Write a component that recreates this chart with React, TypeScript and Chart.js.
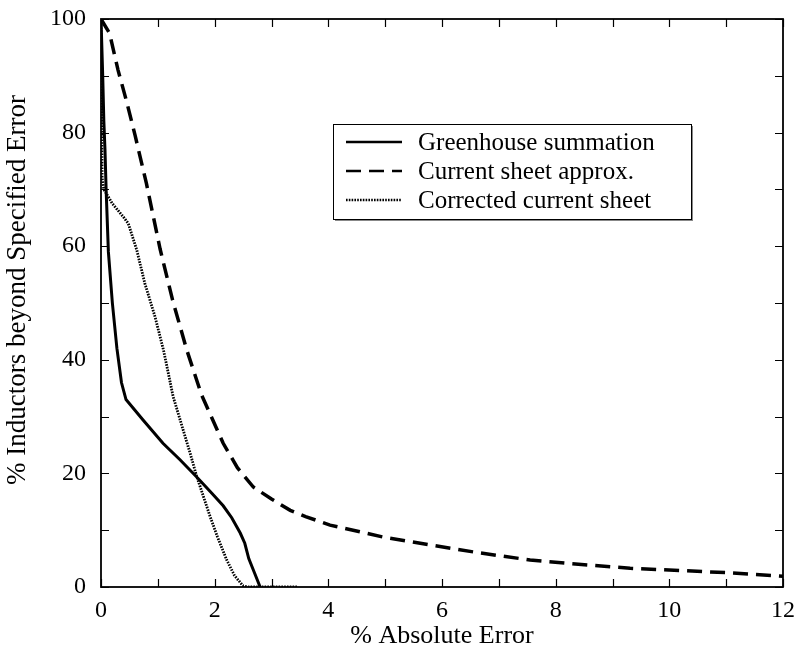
import React, { useEffect, useRef } from "react";
import { Chart, registerables } from "chart.js";

Chart.register(...registerables);

// ---- data ----
const greenhouseX = [0, 0.03, 0.05, 0.07, 0.09, 0.13, 0.2, 0.28, 0.36, 0.44, 0.74, 1.09, 1.39, 1.68, 1.95, 2.15, 2.3, 2.45, 2.53, 2.6, 2.7, 2.8];
const greenhouseY = [100, 90, 82, 77, 70, 59, 50, 42, 36, 33, 29.4, 25.3, 22.4, 19.4, 16.5, 14.3, 12.2, 9.5, 7.7, 5, 2.5, 0];

const currentSheetX = [0, 0.15, 0.3, 0.45, 0.6, 0.8, 1.04, 1.26, 1.51, 1.77, 2.15, 2.4, 2.68, 3.0, 3.33, 3.6, 4.03, 4.96, 5.79, 6.6, 7.55, 8.4, 9.31, 10.2, 11.07, 12];
const currentSheetY = [100, 97.5, 91, 85.5, 79.5, 71, 59.5, 50.5, 41.7, 33.8, 25.3, 21, 17.6, 15.5, 13.5, 12.4, 10.9, 8.8, 7.4, 6.1, 4.75, 4.0, 3.3, 2.9, 2.5, 1.9];

const correctedX = [0, 0.01, 0.02, 0.05, 0.2, 0.39, 0.48, 0.63, 0.77, 0.95, 1.1, 1.27, 1.42, 1.57, 1.68, 1.8, 1.92, 2.05, 2.21, 2.35, 2.5, 2.6, 3.0, 3.47];
const correctedY = [100, 85, 72, 70, 67.5, 65.2, 64, 59.3, 53.5, 47.6, 41.7, 33.5, 28.5, 23.5, 19.6, 16, 12.4, 8.8, 4.8, 2, 0.2, 0, 0, 0];

const seriesLabels = ["Greenhouse summation", "Current sheet approx.", "Corrected current sheet"];

const xMin = 0, xMax = 12, xLabelStep = 2, xMinorStep = 1;
const yMin = 0, yMax = 100, yLabelStep = 20, yMinorStep = 10;

const xTitle = "% Absolute Error";
const yTitle = "% Inductors beyond Specified Error";

const FONT_FAMILY = "'Liberation Serif', 'Times New Roman', serif";
const TICK_SIZE = 24;
const LEGEND_SIZE = 25;
const XTITLE_SIZE = 26;
const YTITLE_SIZE = 27;

const toPoints = (xs: number[], ys: number[]) => xs.map((x, i) => ({ x, y: ys[i] }));

const framePlugin = {
  id: "frameTicks",
  afterDatasetsDraw(chart: any) {
    const { ctx, chartArea: a, scales } = chart;
    ctx.save();
    ctx.strokeStyle = "#000";
    ctx.lineWidth = 1.2;
    const L = 8;
    ctx.beginPath();
    for (let v = xMin; v <= xMax; v += xMinorStep) {
      const px = Math.round(scales.x.getPixelForValue(v)) + 0.5;
      ctx.moveTo(px, a.bottom);
      ctx.lineTo(px, a.bottom - L);
      ctx.moveTo(px, a.top);
      ctx.lineTo(px, a.top + L);
    }
    for (let v = yMin; v <= yMax; v += yMinorStep) {
      const py = Math.round(scales.y.getPixelForValue(v)) + 0.5;
      ctx.moveTo(a.left, py);
      ctx.lineTo(a.left + L, py);
      ctx.moveTo(a.right, py);
      ctx.lineTo(a.right - L, py);
    }
    ctx.stroke();
    ctx.lineWidth = 1.8;
    ctx.strokeRect(a.left, a.top, a.right - a.left, a.bottom - a.top);
    ctx.restore();
  },
};

const yTitlePlugin = {
  id: "yTitle",
  afterDraw(chart: any) {
    const { ctx, chartArea: a } = chart;
    ctx.save();
    ctx.font = `${YTITLE_SIZE}px ${FONT_FAMILY}`;
    ctx.fillStyle = "#000";
    ctx.textAlign = "center";
    ctx.textBaseline = "middle";
    ctx.translate(a.left - 83, a.top + 271);
    ctx.rotate(-Math.PI / 2);
    ctx.fillText(yTitle, 0, 0);
    ctx.restore();
  },
};

const legendPlugin = {
  id: "insideLegend",
  afterDraw(chart: any) {
    const { ctx, chartArea: a } = chart;
    const left = a.left + 232;
    const top = a.top + 105;
    const w = 358;
    const h = 95;
    ctx.save();
    ctx.fillStyle = "#888";
    ctx.fillRect(left + 2, top + 2, w, h);
    ctx.fillStyle = "#fff";
    ctx.fillRect(left, top, w, h);
    ctx.strokeStyle = "#000";
    ctx.lineWidth = 1;
    ctx.strokeRect(left + 0.5, top + 0.5, w, h);
    ctx.font = `${LEGEND_SIZE}px ${FONT_FAMILY}`;
    ctx.textBaseline = "middle";
    ctx.textAlign = "left";
    ctx.fillStyle = "#000";
    chart.data.datasets.forEach((ds: any, i: number) => {
      const y = top + 18 + i * 29;
      ctx.beginPath();
      ctx.lineWidth = Math.min(ds.borderWidth, 2.5);
      ctx.setLineDash(ds.borderDash || []);
      ctx.moveTo(left + 13, y);
      ctx.lineTo(left + 69, y);
      ctx.stroke();
      ctx.setLineDash([]);
      ctx.fillText(ds.label, left + 85, y + 1);
    });
    ctx.restore();
  },
};

export default function App() {
  const ref = useRef<HTMLCanvasElement | null>(null);
  useEffect(() => {
    if (!ref.current) return;
    const tickFont = { family: FONT_FAMILY, size: TICK_SIZE };
    const chart = new Chart(ref.current, {
      type: "line",
      data: {
        datasets: [
          {
            label: seriesLabels[0],
            data: toPoints(greenhouseX, greenhouseY),
            borderColor: "#000",
            borderWidth: 3,
            pointRadius: 0,
            tension: 0,
            fill: false,
          },
          {
            label: seriesLabels[1],
            data: toPoints(currentSheetX, currentSheetY),
            borderColor: "#000",
            borderWidth: 3.5,
            borderDash: [15, 8],
            pointRadius: 0,
            tension: 0,
            fill: false,
          },
          {
            label: seriesLabels[2],
            data: toPoints(correctedX, correctedY),
            borderColor: "#000",
            borderWidth: 2.8,
            borderDash: [1.6, 1.2],
            pointRadius: 0,
            tension: 0,
            fill: false,
          },
        ],
      },
      options: {
        responsive: false,
        animation: false,
        layout: { padding: { top: 19, right: 18, left: 0, bottom: 0 } },
        plugins: { legend: { display: false }, tooltip: { enabled: false } },
        scales: {
          x: {
            type: "linear",
            min: xMin,
            max: xMax,
            ticks: { stepSize: xLabelStep, font: tickFont, color: "#000", padding: 9, maxRotation: 0 },
            grid: { display: false, drawTicks: false },
            border: { display: false },
            title: {
              display: true,
              text: xTitle,
              font: { family: FONT_FAMILY, size: XTITLE_SIZE },
              color: "#000",
              padding: { top: 0, bottom: 1 },
            },
            afterFit: (s: any) => {
              s.height = 66;
              s.paddingLeft = 0;
              s.paddingRight = 0;
            },
          },
          y: {
            type: "linear",
            min: yMin,
            max: yMax,
            ticks: { stepSize: yLabelStep, font: tickFont, color: "#000", padding: 15 },
            grid: { display: false, drawTicks: false },
            border: { display: false },
            title: { display: false },
            afterFit: (s: any) => {
              s.width = 101;
              s.paddingTop = 0;
              s.paddingBottom = 0;
            },
          },
        },
      },
      plugins: [framePlugin, yTitlePlugin, legendPlugin],
    });
    return () => chart.destroy();
  }, []);
  return (
    <div style={{ position: "absolute", left: 0, top: 0, width: 801, height: 653, background: "#fff" }}>
      <canvas ref={ref} width={801} height={653} style={{ display: "block" }} />
    </div>
  );
}
